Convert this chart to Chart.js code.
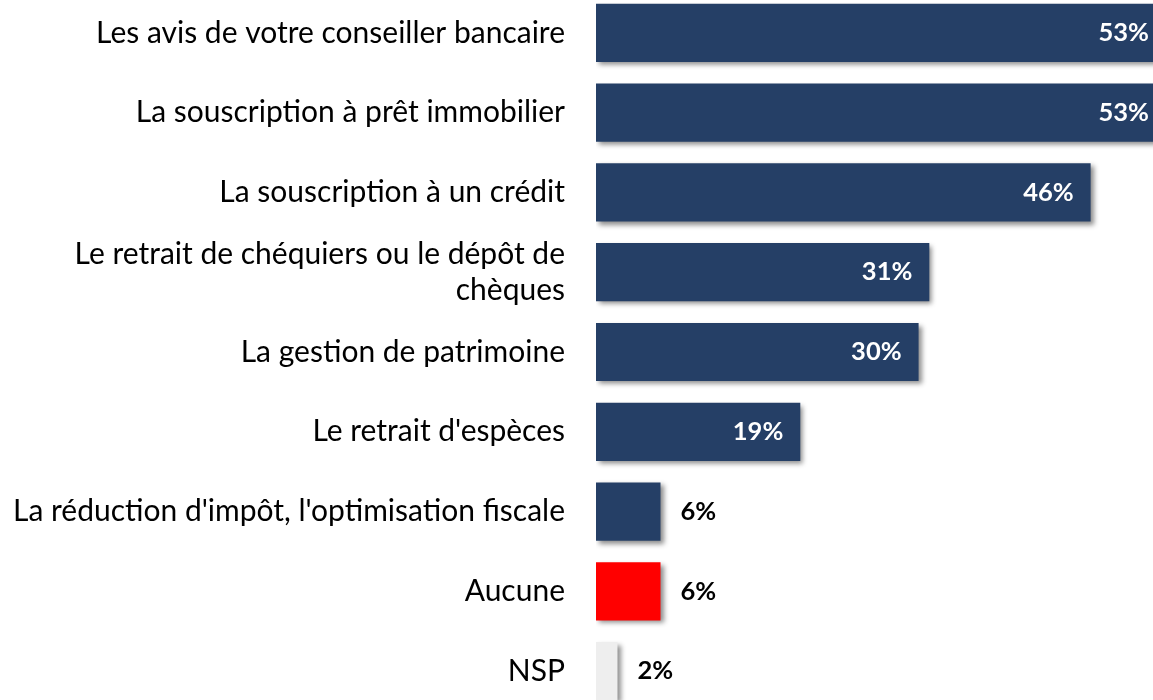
<!DOCTYPE html>
<html>
<head>
<meta charset="utf-8">
<script src="https://cdn.jsdelivr.net/npm/chart.js@4"></script>
<style>
  html, body { margin: 0; padding: 0; background: #fff; overflow: hidden; width: 1153px; height: 700px; }
  #c { position: absolute; left: 0; top: -7px; }
</style>
</head>
<body>
<canvas id="c" width="1153" height="718"></canvas>
<script>
const categories = [
  "Les avis de votre conseiller bancaire",
  "La souscription à prêt immobilier",
  "La souscription à un crédit",
  ["Le retrait de chéquiers ou le dépôt de", "chèques"],
  "La gestion de patrimoine",
  "Le retrait d'espèces",
  "La réduction d'impôt, l'optimisation fiscale",
  "Aucune",
  "NSP"
];
const values = [53, 53, 46, 31, 30, 19, 6, 6, 2];
const barColors = ["#253F66", "#253F66", "#253F66", "#253F66", "#253F66", "#253F66", "#253F66", "#FF0000", "#EEEEEE"];
const labelInside = [true, true, true, true, true, true, false, false, false];

const FONT = "Lato, 'Open Sans', sans-serif";

const shadowPlugin = {
  id: 'barShadow',
  beforeDatasetsDraw(chart) {
    const ctx = chart.ctx;
    ctx.save();
    ctx.shadowColor = 'rgba(0,0,0,0.45)';
    ctx.shadowBlur = 5;
    ctx.shadowOffsetX = 3;
    ctx.shadowOffsetY = 3;
  },
  afterDatasetsDraw(chart) {
    chart.ctx.restore();
  }
};

const valueLabels = {
  id: 'valueLabels',
  afterDraw(chart) {
    const ctx = chart.ctx;
    const meta = chart.getDatasetMeta(0);
    ctx.save();
    ctx.font = "bold 25.5px " + FONT;
    ctx.textBaseline = 'middle';
    meta.data.forEach((bar, i) => {
      const txt = values[i] + '%';
      const xEnd = chart.scales.x.getPixelForValue(values[i]);
      if (labelInside[i]) {
        ctx.fillStyle = '#FFFFFF';
        ctx.textAlign = 'right';
        ctx.fillText(txt, xEnd - 17, bar.y);
      } else {
        ctx.fillStyle = '#000000';
        ctx.textAlign = 'left';
        ctx.fillText(txt, xEnd + 20, bar.y);
      }
    });
    ctx.restore();
  }
};

new Chart(document.getElementById('c'), {
  type: 'bar',
  data: {
    labels: categories,
    datasets: [{
      data: values,
      backgroundColor: barColors,
      borderWidth: 0,
      barPercentage: 0.73,
      categoryPercentage: 1.0
    }]
  },
  options: {
    indexAxis: 'y',
    responsive: false,
    animation: false,
    events: [],
    layout: { padding: 0 },
    plugins: { legend: { display: false }, tooltip: { enabled: false } },
    scales: {
      x: {
        display: false,
        min: 0,
        max: 51.8
      },
      y: {
        grid: { display: false, drawTicks: false },
        border: { display: false },
        ticks: {
          color: '#000000',
          padding: 31,
          font: { family: FONT, size: 30, lineHeight: 1.18 }
        },
        afterFit(scale) {
          scale.width = 596;
          scale.paddingTop = 0;
          scale.paddingBottom = 0;
        }
      }
    }
  },
  plugins: [shadowPlugin, valueLabels]
});
</script>
</body>
</html>
